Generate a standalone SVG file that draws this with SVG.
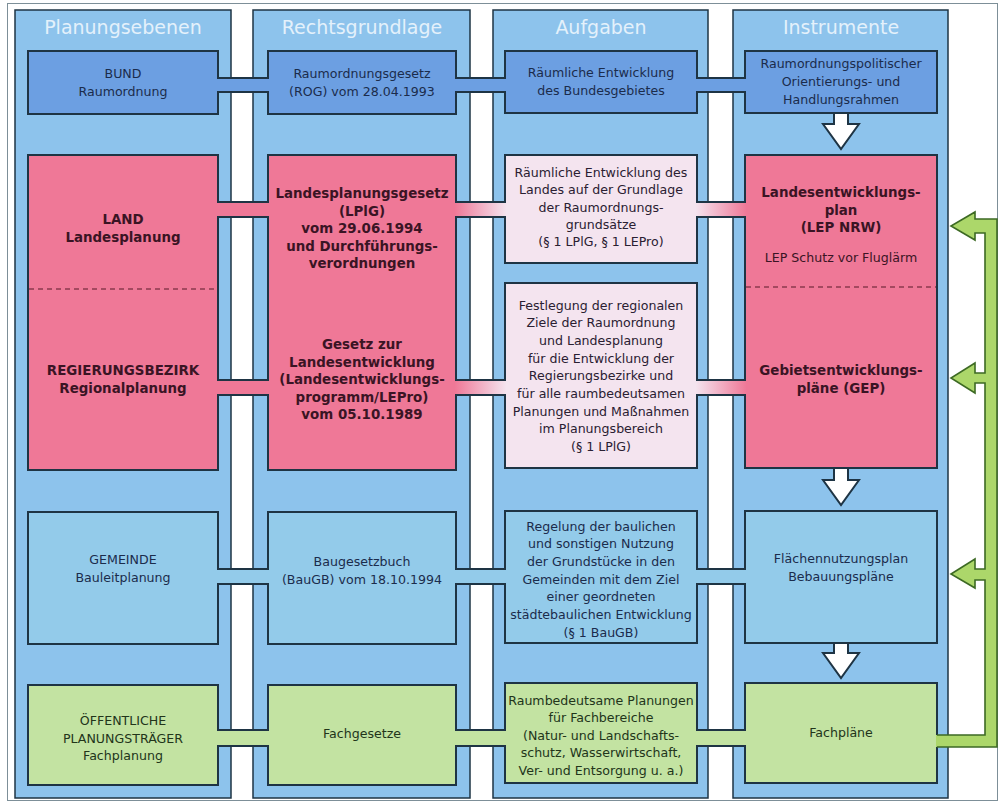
<svg xmlns="http://www.w3.org/2000/svg" width="999" height="803" viewBox="0 0 999 803">
<style>
.frame{fill:#ffffff;stroke:#7d8f98;stroke-width:1}
.panel{fill:#8dc3ec;stroke:#1e3444;stroke-width:1.5}
.box{stroke:#1e3444;stroke-width:2}
.b1{fill:#6c9fe2}.pk{fill:#ef7897}.lp{fill:#f4e4ef}.cy{fill:#93cbea}.gr{fill:#c3e3a2}
.t{font-family:"DejaVu Sans","Liberation Sans",sans-serif;font-size:12.6px;text-anchor:middle;fill:#1b2c4c}
.tb{font-weight:bold;font-size:13.4px;fill:#3a1424}
.tp{fill:#3a1424}
.tg{fill:#22351a}
.tl{fill:#2a2032}
.hd{font-size:19px;fill:#e4f1fb}
.dash{stroke:#5a1a2a;stroke-width:1.2;stroke-dasharray:5 4;fill:none}
.bl{stroke:#1e3444;stroke-width:2;fill:none}
.arr{fill:#ffffff;stroke:#1e3444;stroke-width:2;stroke-linejoin:miter}
.fb{fill:#acd76a}
.fbo{fill:none;stroke:#3d6a24;stroke-width:1.6;stroke-linejoin:miter}
</style>
<defs>
<linearGradient id="gPL" x1="0" y1="0" x2="1" y2="0"><stop offset="0" stop-color="#ef7897"/><stop offset="1" stop-color="#f4e4ef"/></linearGradient>
<linearGradient id="gLP" x1="0" y1="0" x2="1" y2="0"><stop offset="0" stop-color="#f4e4ef"/><stop offset="1" stop-color="#ef7897"/></linearGradient>
</defs>
<rect class="frame" x="7.5" y="3.5" width="990" height="797"/>
<g id="columns">
<g id="col-planungsebenen"><rect class="panel" x="15" y="10" width="216" height="788"/><text class="t hd" x="123" y="34">Planungsebenen</text></g>
<g id="col-rechtsgrundlage"><rect class="panel" x="253" y="10" width="217" height="788"/><text class="t hd" x="362" y="34">Rechtsgrundlage</text></g>
<g id="col-aufgaben"><rect class="panel" x="493" y="10" width="215" height="788"/><text class="t hd" x="601" y="34">Aufgaben</text></g>
<g id="col-instrumente"><rect class="panel" x="733" y="10" width="215" height="788"/><text class="t hd" x="841" y="34">Instrumente</text></g>
</g>
<g id="nodes">
<g id="bund"><rect class="box b1" x="28" y="51" width="190" height="63"/><text class="t" x="123" y="78">BUND</text><text class="t" x="123" y="96">Raumordnung</text></g>
<g id="rog"><rect class="box b1" x="268" y="51" width="188" height="63"/><text class="t" x="362" y="78">Raumordnungsgesetz</text><text class="t" x="362" y="96">(ROG) vom 28.04.1993</text></g>
<g id="aufgabe-bund"><rect class="box b1" x="505" y="51" width="192" height="62"/><text class="t" x="601" y="77">Räumliche Entwicklung</text><text class="t" x="601" y="95">des Bundesgebietes</text></g>
<g id="instrument-bund"><rect class="box b1" x="745" y="51" width="192" height="62"/><text class="t" x="841" y="68">Raumordnungspolitischer</text><text class="t" x="841" y="86">Orientierungs- und</text><text class="t" x="841" y="104">Handlungsrahmen</text></g>

<g id="land-regierungsbezirk"><rect class="box pk" x="28" y="155" width="190" height="315"/><line class="dash" x1="29" y1="289" x2="217" y2="289"/>
<text class="t tb" x="123" y="224">LAND</text><text class="t tb" x="123" y="242">Landesplanung</text>
<text class="t tb" x="123" y="375">REGIERUNGSBEZIRK</text><text class="t tb" x="123" y="393">Regionalplanung</text></g>
<g id="lplg-lepro"><rect class="box pk" x="268" y="155" width="188" height="315"/>
<text class="t tb" x="362" y="198">Landesplanungsgesetz</text><text class="t tb" x="362" y="215.6">(LPlG)</text><text class="t tb" x="362" y="233.2">vom 29.06.1994</text><text class="t tb" x="362" y="250.8">und Durchführungs-</text><text class="t tb" x="362" y="268.4">verordnungen</text>
<text class="t tb" x="362" y="349">Gesetz zur</text><text class="t tb" x="362" y="366.6">Landesentwicklung</text><text class="t tb" x="362" y="384.2">(Landesentwicklungs-</text><text class="t tb" x="362" y="401.8">programm/LEPro)</text><text class="t tb" x="362" y="419.4">vom 05.10.1989</text></g>
<g id="aufgabe-land"><rect class="box lp" x="505" y="155" width="192" height="108"/>
<text class="t tl" x="601" y="177">Räumliche Entwicklung des</text><text class="t tl" x="601" y="194.3">Landes auf der Grundlage</text><text class="t tl" x="601" y="211.6">der Raumordnungs-</text><text class="t tl" x="601" y="228.9">grundsätze</text><text class="t tl" x="601" y="246.2">(§ 1 LPlG, § 1 LEPro)</text></g>
<g id="aufgabe-region"><rect class="box lp" x="505" y="283" width="192" height="185"/>
<text class="t tl" x="601" y="309.5">Festlegung der regionalen</text><text class="t tl" x="601" y="327.2">Ziele der Raumordnung</text><text class="t tl" x="601" y="344.9">und Landesplanung</text><text class="t tl" x="601" y="362.6">für die Entwicklung der</text><text class="t tl" x="601" y="380.3">Regierungsbezirke und</text><text class="t tl" x="601" y="398">für alle raumbedeutsamen</text><text class="t tl" x="601" y="415.7">Planungen und Maßnahmen</text><text class="t tl" x="601" y="433.4">im Planungsbereich</text><text class="t tl" x="601" y="451.1">(§ 1 LPlG)</text></g>
<g id="lep-gep"><rect class="box pk" x="745" y="155" width="192" height="313"/><line class="dash" x1="746" y1="287" x2="936" y2="287"/>
<text class="t tb" x="841" y="197">Landesentwicklungs-</text><text class="t tb" x="841" y="214.5">plan</text><text class="t tb" x="841" y="232">(LEP NRW)</text><text class="t tp" x="841" y="261.5">LEP Schutz vor Fluglärm</text>
<text class="t tb" x="841" y="375">Gebietsentwicklungs-</text><text class="t tb" x="841" y="392.5">pläne (GEP)</text></g>

<g id="gemeinde"><rect class="box cy" x="28" y="512" width="190" height="132"/><text class="t" x="123" y="564">GEMEINDE</text><text class="t" x="123" y="582">Bauleitplanung</text></g>
<g id="baugb"><rect class="box cy" x="268" y="512" width="188" height="132"/><text class="t" x="362" y="566">Baugesetzbuch</text><text class="t" x="362" y="583.5">(BauGB) vom 18.10.1994</text></g>
<g id="aufgabe-gemeinde"><rect class="box cy" x="505" y="511" width="192" height="132"/>
<text class="t" x="601" y="530.5">Regelung der baulichen</text><text class="t" x="601" y="548.2">und sonstigen Nutzung</text><text class="t" x="601" y="565.9">der Grundstücke in den</text><text class="t" x="601" y="583.6">Gemeinden mit dem Ziel</text><text class="t" x="601" y="601.3">einer geordneten</text><text class="t" x="601" y="619">städtebaulichen Entwicklung</text><text class="t" x="601" y="636.7">(§ 1 BauGB)</text></g>
<g id="fnp-bplan"><rect class="box cy" x="745" y="511" width="192" height="132"/><text class="t" x="841" y="563">Flächennutzungsplan</text><text class="t" x="841" y="581">Bebauungspläne</text></g>

<g id="planungstraeger"><rect class="box gr" x="28" y="685" width="190" height="100"/><text class="t tg" x="123" y="725">ÖFFENTLICHE</text><text class="t tg" x="123" y="742.5">PLANUNGSTRÄGER</text><text class="t tg" x="123" y="760">Fachplanung</text></g>
<g id="fachgesetze"><rect class="box gr" x="268" y="685" width="188" height="100"/><text class="t tg" x="362" y="738">Fachgesetze</text></g>
<g id="aufgabe-fach"><rect class="box gr" x="505" y="683" width="192" height="100"/>
<text class="t tg" x="601" y="704.5">Raumbedeutsame Planungen</text><text class="t tg" x="601" y="722">für Fachbereiche</text><text class="t tg" x="601" y="739.5">(Natur- und Landschafts-</text><text class="t tg" x="601" y="757">schutz, Wasserwirtschaft,</text><text class="t tg" x="601" y="774.5">Ver- und Entsorgung u. a.)</text></g>
<g id="fachplaene"><rect class="box gr" x="745" y="683" width="192" height="100"/><text class="t tg" x="841" y="737">Fachpläne</text></g>
</g>
<g id="connectors">
<!-- row 1 -->
<rect class="b1" x="216.5" y="79" width="53" height="12"/><path class="bl" d="M218 78H268M218 92H268"/>
<rect class="b1" x="454.5" y="79" width="52" height="12"/><path class="bl" d="M456 78H505M456 92H505"/>
<rect class="b1" x="695.5" y="79" width="51" height="12"/><path class="bl" d="M697 78H745M697 92H745"/>
<!-- row 2 upper -->
<rect class="pk" x="216.5" y="203" width="53" height="13"/><path class="bl" d="M218 202H268M218 217H268"/>
<rect fill="url(#gPL)" x="454.5" y="203" width="52" height="13"/><path class="bl" d="M456 202H505M456 217H505"/>
<rect fill="url(#gLP)" x="695.5" y="203" width="51" height="13"/><path class="bl" d="M697 202H745M697 217H745"/>
<!-- row 2 lower -->
<rect class="pk" x="216.5" y="381" width="53" height="13"/><path class="bl" d="M218 380H268M218 395H268"/>
<rect fill="url(#gPL)" x="454.5" y="381" width="52" height="13"/><path class="bl" d="M456 380H505M456 395H505"/>
<rect fill="url(#gLP)" x="695.5" y="381" width="51" height="13"/><path class="bl" d="M697 380H745M697 395H745"/>
<!-- row 3 -->
<rect class="cy" x="216.5" y="570" width="53" height="13"/><path class="bl" d="M218 569H268M218 584H268"/>
<rect class="cy" x="454.5" y="570" width="52" height="13"/><path class="bl" d="M456 569H505M456 584H505"/>
<rect class="cy" x="695.5" y="570" width="51" height="13"/><path class="bl" d="M697 569H745M697 584H745"/>
<!-- row 4 -->
<rect class="gr" x="216.5" y="731" width="53" height="14"/><path class="bl" d="M218 730H268M218 746H268"/>
<rect class="gr" x="454.5" y="731" width="52" height="14"/><path class="bl" d="M456 730H505M456 746H505"/>
<rect class="gr" x="695.5" y="731" width="51" height="14"/><path class="bl" d="M697 730H745M697 746H745"/>
<!-- down arrows -->
<path class="arr" d="M834 113V124H823L841 149L859 124H848V113Z"/>
<path class="arr" d="M834 468V480H823L841 505L859 480H848V468Z"/>
<path class="arr" d="M834 643V653H823L841 678L859 653H848V643Z"/>
<!-- feedback arrow -->
<path class="fb" d="M936 735H985V580H975V588L951 574L975 559V569H985V383H975V393L951 378L975 363V373H985V233H975V240L951 226L975 212V219H997V747H936Z"/>
<path class="fbo" d="M937 735H985V580H975V588L951 574L975 559V569H985V383H975V393L951 378L975 363V373H985V233H975V240L951 226L975 212V219H997V747H937"/>
</g>
</svg>
